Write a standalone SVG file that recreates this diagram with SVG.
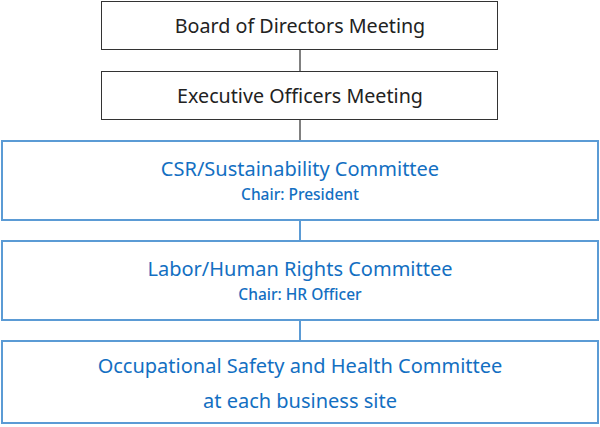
<svg xmlns="http://www.w3.org/2000/svg" width="600" height="427" viewBox="0 0 600 427">
<style>
.g{fill:#fff;stroke:#333;stroke-width:1}
.b{fill:#fff;stroke:#5b9bd5;stroke-width:2}
.tg{font-family:"Source Sans Pro","Noto Sans",sans-serif;font-size:19.7px;fill:#222;text-anchor:middle}
.tb{font-family:"Source Sans Pro","Noto Sans",sans-serif;font-size:20px;fill:#136fc2;text-anchor:middle}
.ts{font-family:"Source Sans Pro","Noto Sans",sans-serif;font-size:15.5px;font-weight:500;fill:#136fc2;text-anchor:middle}
</style>
<rect width="600" height="427" fill="#fff"/>
<g id="connectors">
<line x1="300" y1="50" x2="300" y2="71" stroke="#808080" stroke-width="2"/>
<line x1="300" y1="120" x2="300" y2="141" stroke="#808080" stroke-width="2"/>
<line x1="300" y1="220" x2="300" y2="241" stroke="#5b9bd5" stroke-width="2"/>
<line x1="300" y1="320" x2="300" y2="341" stroke="#5b9bd5" stroke-width="2"/>
</g>
<g id="board">
<rect class="g" x="101.5" y="1.5" width="396" height="48"/>
<text class="tg" x="300" y="33">Board of Directors Meeting</text>
</g>
<g id="exec">
<rect class="g" x="101.5" y="71.5" width="396" height="48"/>
<text class="tg" x="300" y="103">Executive Officers Meeting</text>
</g>
<g id="csr">
<rect class="b" x="2" y="141" width="596" height="79"/>
<text class="tb" x="300" y="176">CSR/Sustainability Committee</text>
<text class="ts" x="300" y="200">Chair: President</text>
</g>
<g id="labor">
<rect class="b" x="2" y="241" width="596" height="79"/>
<text class="tb" x="300" y="276">Labor/Human Rights Committee</text>
<text class="ts" x="300" y="300">Chair: HR Officer</text>
</g>
<g id="safety">
<rect class="b" x="2" y="341" width="596" height="82"/>
<text class="tb" x="300" y="373">Occupational Safety and Health Committee</text>
<text class="tb" x="300" y="408">at each business site</text>
</g>
</svg>
